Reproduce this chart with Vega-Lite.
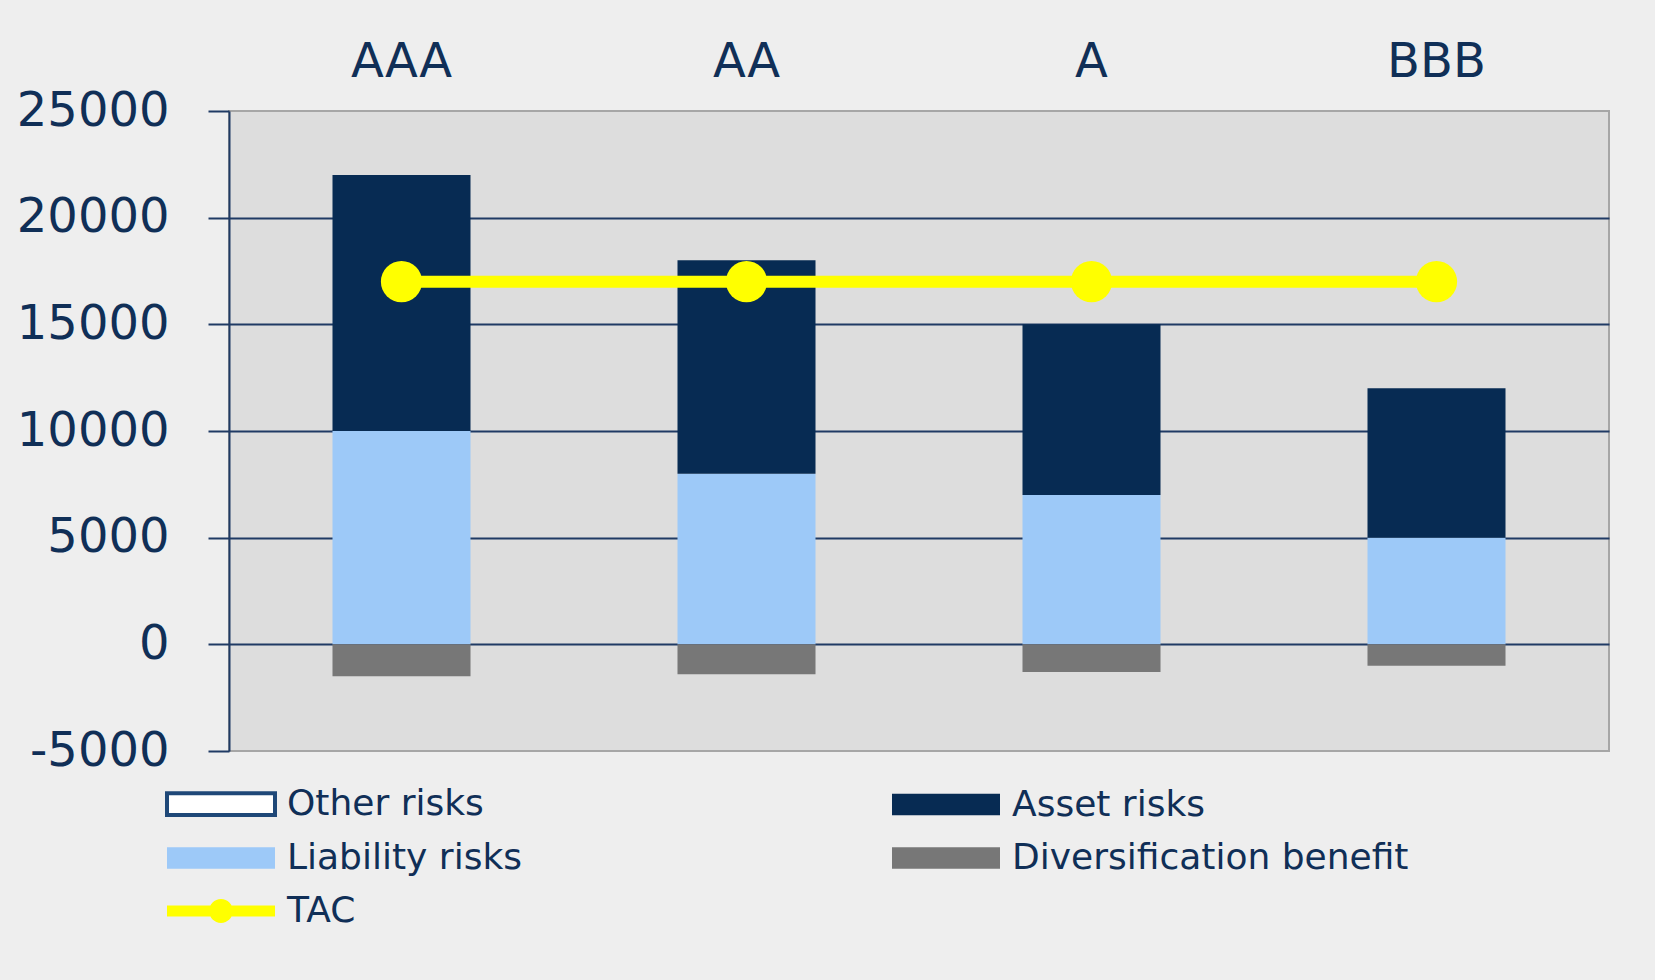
{
  "$schema": "https://vega.github.io/schema/vega-lite/v6.json",
  "width": 1380,
  "height": 640,
  "autosize": {"type": "none"},
  "padding": {"left": 229, "top": 111, "right": 46, "bottom": 229},
  "background": "#EEEEEE",
  "config": {
    "view": {"fill": "#DDDDDD", "stroke": "#A6A6A6", "strokeWidth": 2},
    "font": "DejaVu Sans"
  },
  "datasets": {
    "bars": [
      {"rating": "AAA", "risk": "Liability risks", "value": 10000},
      {"rating": "AAA", "risk": "Asset risks", "value": 12000},
      {"rating": "AAA", "risk": "Diversification benefit", "value": -1500},
      {"rating": "AA", "risk": "Liability risks", "value": 8000},
      {"rating": "AA", "risk": "Asset risks", "value": 10000},
      {"rating": "AA", "risk": "Diversification benefit", "value": -1400},
      {"rating": "A", "risk": "Liability risks", "value": 7000},
      {"rating": "A", "risk": "Asset risks", "value": 8000},
      {"rating": "A", "risk": "Diversification benefit", "value": -1300},
      {"rating": "BBB", "risk": "Liability risks", "value": 5000},
      {"rating": "BBB", "risk": "Asset risks", "value": 7000},
      {"rating": "BBB", "risk": "Diversification benefit", "value": -1000}
    ],
    "tac": [
      {"rating": "AAA", "risk": "TAC", "value": 17000},
      {"rating": "AA", "risk": "TAC", "value": 17000},
      {"rating": "A", "risk": "TAC", "value": 17000},
      {"rating": "BBB", "risk": "TAC", "value": 17000}
    ]
  },
  "encoding": {
    "x": {
      "field": "rating",
      "type": "nominal",
      "sort": ["AAA", "AA", "A", "BBB"],
      "scale": {"paddingInner": 0.6, "paddingOuter": 0.3},
      "axis": {
        "orient": "top",
        "title": null,
        "domain": false,
        "ticks": false,
        "labelAngle": 0,
        "labelFontSize": 48,
        "labelColor": "#102F57",
        "labelBaseline": "alphabetic",
        "labelPadding": 35
      }
    },
    "y": {
      "field": "value",
      "type": "quantitative",
      "scale": {"domain": [-5000, 25000], "nice": false, "zero": false},
      "axis": {
        "title": null,
        "values": [-5000, 0, 5000, 10000, 15000, 20000, 25000],
        "labelExpr": "'' + datum.value",
        "labelFontSize": 48,
        "labelColor": "#102F57",
        "labelPadding": 39,
        "tickSize": 21,
        "tickWidth": 2,
        "tickColor": "#1F3A64",
        "domainColor": "#1F3A64",
        "domainWidth": 2,
        "gridWidth": 2,
        "gridColor": {"condition": {"test": "datum.value === 25000 || datum.value === -5000", "value": "transparent"}, "value": "#1F3A64"}
      }
    }
  },
  "layer": [
    {
      "data": {"name": "bars"},
      "mark": {"type": "bar"},
      "encoding": {
        "order": {"field": "risk", "sort": "descending"},
        "color": {
          "field": "risk",
          "type": "nominal",
          "scale": {
            "domain": ["Other risks", "Asset risks", "Liability risks", "Diversification benefit", "TAC"],
            "range": ["#FFFFFF", "#072B53", "#9DC9F8", "#777777", "#FFFF00"]
          },
          "legend": {
            "title": null,
            "orient": "none",
            "legendX": -26,
            "legendY": 675,
            "direction": "horizontal",
            "columns": 2,
            "columnPadding": 369,
            "rowPadding": 17,
            "padding": 0,
            "symbolSize": 11664,
            "labelFontSize": 36,
            "labelColor": "#102F57",
            "labelOffset": 48,
            "labelLimit": 600,
            "encode": {
              "symbols": {
                "update": {
                  "shape": {"signal": "datum.value === 'TAC' ? 'M-1,-0.1H1V0.1H-1Z M0.22,0A0.22,0.22 0 1 1 -0.22,0A0.22,0.22 0 1 1 0.22,0Z' : 'M-1,-0.2H1V0.2H-1Z'"},
                  "stroke": {"signal": "datum.value === 'Other risks' ? '#1F4878' : 'transparent'"},
                  "strokeWidth": {"signal": "datum.value === 'Other risks' ? 4 : 0"},
                  "strokeOpacity": {"value": 1},
                  "opacity": {"value": 1},
                  "fillOpacity": {"value": 1}
                }
              }
            }
          }
        }
      }
    },
    {
      "data": {"name": "tac"},
      "mark": {"type": "line", "color": "#FFFF00", "strokeWidth": 12, "point": {"filled": true, "size": 1700, "opacity": 1, "color": "#FFFF00"}},
      "encoding": {}
    }
  ]
}
